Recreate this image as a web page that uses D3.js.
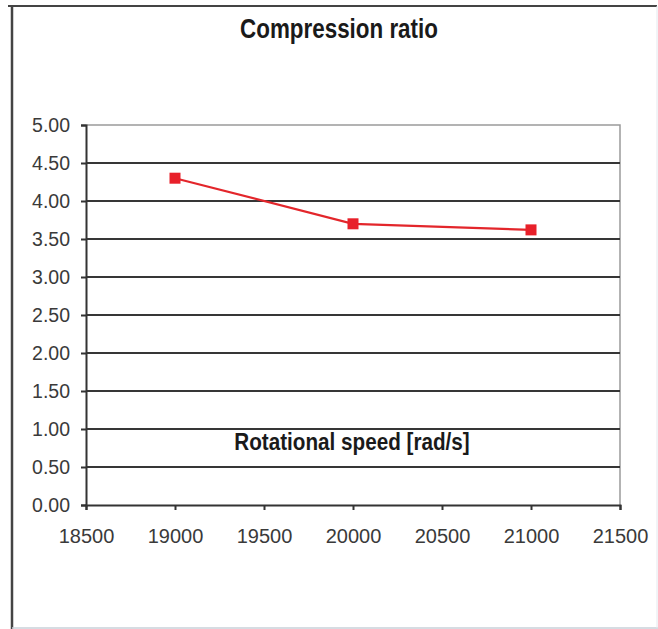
<!DOCTYPE html>
<html>
<head>
<meta charset="utf-8">
<script src="https://cdn.jsdelivr.net/npm/d3@7"></script>
<style>
  html, body { margin: 0; padding: 0; background: #fff; }
  svg { display: block; }
</style>
</head>
<body>
<svg id="chart" width="658" height="629"></svg>
<script>
// Data
const speeds = [19000, 20000, 21000];
const ratios = [4.30, 3.70, 3.62];
const xTicks = [18500, 19000, 19500, 20000, 20500, 21000, 21500];
const yTicks = [0, 0.5, 1, 1.5, 2, 2.5, 3, 3.5, 4, 4.5, 5];
const titleText = "Compression ratio";
const xAxisTitle = "Rotational speed [rad/s]";

const svg = d3.select("#chart");
const plot = { left: 86, right: 620, top: 125, bottom: 505 };

const x = d3.scaleLinear().domain([18500, 21500]).range([plot.left, plot.right]);
const y = d3.scaleLinear().domain([0, 5]).range([plot.bottom, plot.top]);

// Outer chart frame
svg.append("line").attr("x1", 8).attr("x2", 657).attr("y1", 6).attr("y2", 6)
  .attr("stroke", "#444").attr("stroke-width", 2);
svg.append("line").attr("x1", 12).attr("x2", 12).attr("y1", 5).attr("y2", 629)
  .attr("stroke", "#444").attr("stroke-width", 2.5);
svg.append("line").attr("x1", 12).attr("x2", 658).attr("y1", 628).attr("y2", 628)
  .attr("stroke", "#c8d0d8").attr("stroke-width", 1.5);
svg.append("line").attr("x1", 657).attr("x2", 657).attr("y1", 6).attr("y2", 628)
  .attr("stroke", "#e4e8ee").attr("stroke-width", 1);

// Plot area border (top and right)
svg.append("path")
  .attr("d", `M${plot.left},${plot.top}H${plot.right}V${plot.bottom}`)
  .attr("fill", "none").attr("stroke", "#9a9a9a").attr("stroke-width", 1.5);

// Horizontal gridlines
svg.append("g").selectAll("line")
  .data(yTicks.filter(v => v > 0 && v < 5))
  .join("line")
  .attr("x1", plot.left).attr("x2", plot.right)
  .attr("y1", d => y(d)).attr("y2", d => y(d))
  .attr("stroke", "#363636").attr("stroke-width", 2.2);

// Y axis
const yAxis = svg.append("g")
  .attr("transform", `translate(${plot.left},0)`)
  .call(d3.axisLeft(y).tickValues(yTicks).tickFormat(d3.format(".2f")).tickSize(5).tickPadding(11));
yAxis.select(".domain").attr("stroke", "#333").attr("stroke-width", 2);
yAxis.selectAll(".tick line").attr("stroke", "#333").attr("stroke-width", 2);
yAxis.selectAll("text")
  .attr("font-family", "Arial, 'Liberation Sans', sans-serif")
  .attr("font-size", 19.5).attr("fill", "#3a3a3a");

// X axis
const xAxis = svg.append("g")
  .attr("transform", `translate(0,${plot.bottom})`)
  .call(d3.axisBottom(x).tickValues(xTicks).tickFormat(d3.format("d")).tickSize(5).tickPadding(19));
xAxis.select(".domain").attr("stroke", "#333").attr("stroke-width", 2);
xAxis.selectAll(".tick line").attr("stroke", "#333").attr("stroke-width", 2);
xAxis.selectAll("text")
  .attr("font-family", "Arial, 'Liberation Sans', sans-serif")
  .attr("font-size", 20).attr("fill", "#3a3a3a");

// Series line and markers
const pts = speeds.map((s, i) => [s, ratios[i]]);
svg.append("path")
  .datum(pts)
  .attr("d", d3.line().x(d => x(d[0])).y(d => y(d[1])))
  .attr("fill", "none").attr("stroke", "#e3262b").attr("stroke-width", 2.2);
svg.append("g").selectAll("rect")
  .data(pts)
  .join("rect")
  .attr("x", d => x(d[0]) - 5.5).attr("y", d => y(d[1]) - 5.5)
  .attr("width", 11).attr("height", 11)
  .attr("fill", "#e8202a");

// Chart title
svg.append("text")
  .attr("transform", "translate(339,38) scale(0.8,1)")
  .attr("text-anchor", "middle")
  .attr("font-family", "Arial, 'Liberation Sans', sans-serif")
  .attr("font-weight", "bold").attr("font-size", 28)
  .attr("fill", "#1a1a1a")
  .text(titleText);

// X axis title, drawn inside the plot area
svg.append("text")
  .attr("transform", `translate(${(plot.left + plot.right) / 2 - 1},450) scale(0.88,1)`)
  .attr("text-anchor", "middle")
  .attr("font-family", "Arial, 'Liberation Sans', sans-serif")
  .attr("font-weight", "bold").attr("font-size", 23.5)
  .attr("fill", "#1a1a1a")
  .text(xAxisTitle);
</script>
</body>
</html>
